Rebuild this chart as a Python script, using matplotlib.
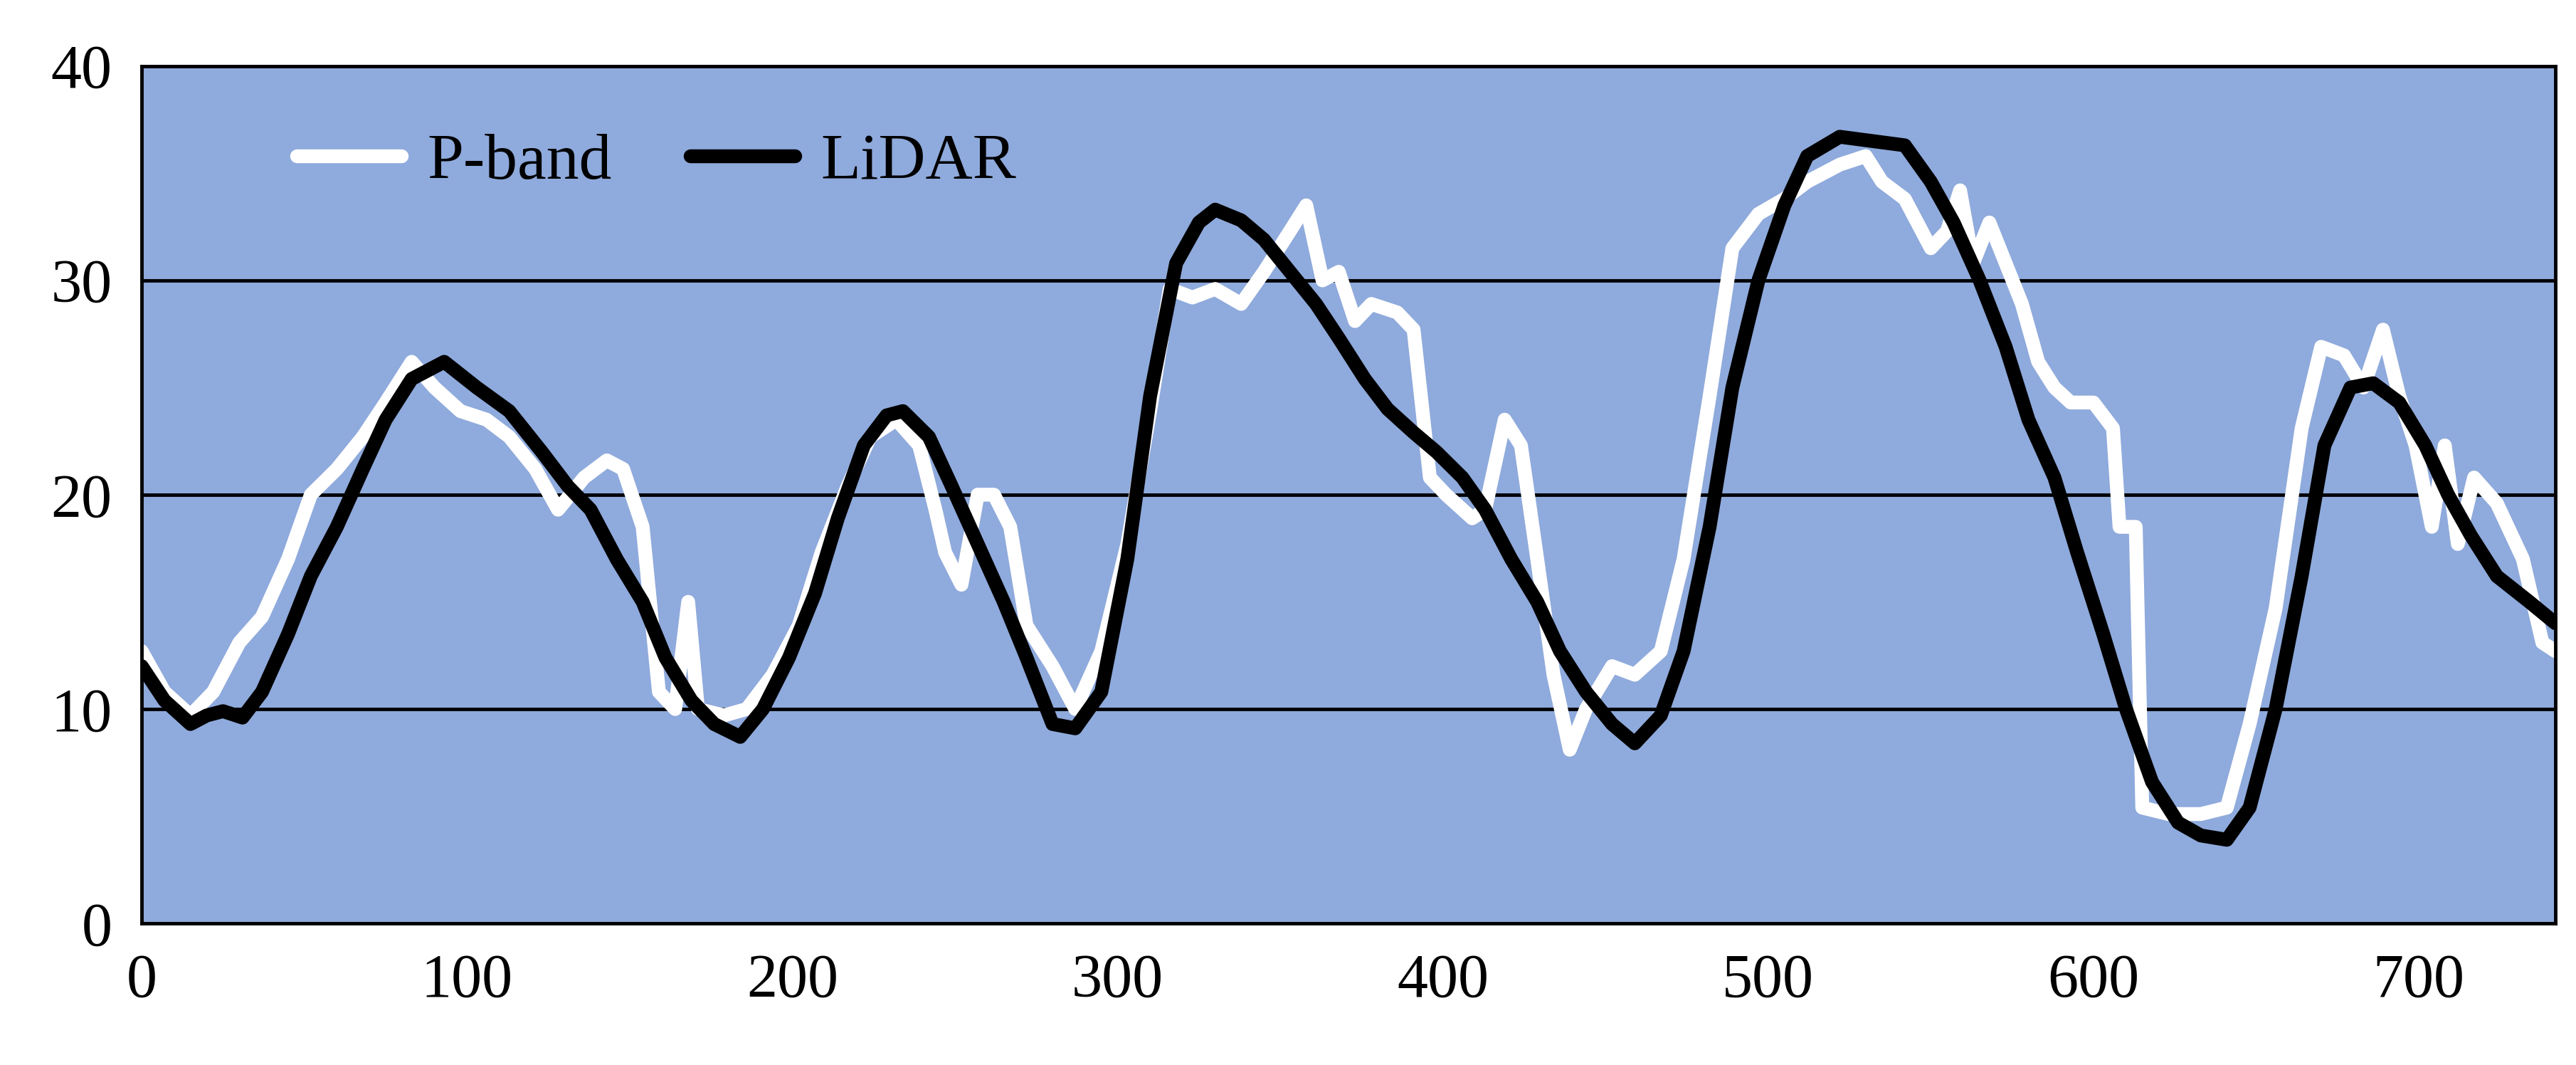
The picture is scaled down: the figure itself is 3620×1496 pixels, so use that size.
import numpy as np
import matplotlib as mpl
mpl.use('Agg')
import matplotlib.pyplot as plt

#
#--- values
#
lidar_x = [0, 7, 15, 20, 25, 31, 37, 45, 52, 60, 68, 75, 83, 93, 103, 113, 123, 131, 138, 146,
           154, 161, 169, 176, 184, 191, 199, 207, 214, 222, 229, 234, 242, 249, 257, 265, 272,
           280, 287, 295, 303, 310, 318, 325, 330, 338, 345, 353, 361, 368, 376, 383, 391, 398,
           406, 413, 421, 429, 436, 444, 452, 459, 467, 474, 482, 489, 497, 505, 512, 522, 532,
           542, 550, 557, 565, 573, 580, 588, 595, 603, 610, 618, 626, 633, 641, 648, 656, 664,
           671, 679, 686, 694, 702, 709, 716, 724, 734, 742]
lidar_y = [12, 10.4, 9.3, 9.7, 9.9, 9.6, 10.8, 13.5, 16.2, 18.5, 21.2, 23.5, 25.4, 26.2, 25, 23.9,
           22, 20.4, 19.3, 17, 15, 12.4, 10.4, 9.3, 8.7, 10, 12.4, 15.4, 18.9, 22.3, 23.7, 23.9,
           22.7, 20.4, 17.7, 15, 12.4, 9.3, 9.1, 10.8, 17, 24.6, 30.8, 32.7, 33.3, 32.8, 31.9,
           30.4, 28.9, 27.3, 25.4, 24, 22.9, 22, 20.8, 19.3, 17, 15, 12.7, 10.8, 9.3, 8.4, 9.7,
           12.7, 18.5, 25, 30, 33.5, 35.8, 36.7, 36.5, 36.3, 34.6, 32.7, 30, 26.9, 23.5, 20.8,
           17.3, 13.5, 10, 6.6, 4.7, 4.1, 3.9, 5.4, 10, 16.2, 22.3, 25, 25.2, 24.3, 22.3, 20,
           18.1, 16.2, 15, 14]

pband_x = [0, 7, 15, 22, 30, 37, 45, 52, 60, 68, 75, 83, 90, 98, 106, 113, 121, 128, 136, 143,
           148, 154, 159, 164, 168, 171, 179, 186, 194, 202, 209, 217, 224, 232, 239, 244, 247,
           252, 257, 262, 267, 272, 280, 287, 295, 303, 310, 316, 323, 330, 338, 345, 353, 358,
           363, 368, 373, 378, 386, 391, 396, 401, 409, 413, 419, 424, 429, 434, 439, 444, 452,
           459, 467, 474, 482, 489, 497, 505, 512, 522, 530, 535, 542, 550, 555, 559, 563, 568,
           573, 578, 583, 588, 593, 600, 606, 608, 613, 615, 623, 633, 641, 648, 656, 664, 670,
           677, 683, 689, 694, 699, 704, 708, 712, 717, 724, 732, 738, 742]
pband_y = [12.7, 10.8, 9.7, 10.8, 13.1, 14.3, 17, 20, 21.2, 22.7, 24.3, 26.2, 25, 23.9, 23.5,
           22.7, 21.2, 19.3, 20.8, 21.6, 21.2, 18.5, 10.8, 10, 15, 10, 9.7, 10, 11.6, 13.9, 17.3,
           20.4, 22.7, 23.5, 22.3, 19.3, 17.3, 15.8, 20, 20, 18.5, 13.9, 12, 10, 12.7, 17.7, 23.9,
           29.6, 29.2, 29.6, 28.9, 30.4, 32.3, 33.5, 30, 30.4, 28.1, 28.9, 28.5, 27.7, 20.8, 20,
           18.9, 19.3, 23.5, 22.3, 17, 11.6, 8.1, 10, 12, 11.6, 12.7, 17, 24.6, 31.5, 33.1, 33.8,
           34.6, 35.4, 35.8, 34.6, 33.8, 31.5, 32.3, 34.2, 30.8, 32.7, 30.8, 28.9, 26.2, 25, 24.3,
           24.3, 23.1, 18.5, 18.5, 5.4, 5.1, 5.1, 5.4, 9.3, 14.7, 23.1, 26.9, 26.5, 25, 27.7, 24.6,
           22.3, 18.5, 22.3, 17.7, 20.8, 19.6, 17, 13.1, 12.7]

x_ticks = [0, 100, 200, 300, 400, 500, 600, 700]
y_ticks = [0, 10, 20, 30, 40]

#
#--- plotting
#
plt.rcParams['font.family'] = ['Liberation Serif', 'DejaVu Serif']

fig = plt.figure(figsize=(36.2, 14.96), dpi=100)
ax = fig.add_axes([0.055, 0.133, 0.937, 0.805])
ax.set_facecolor('#8faadc')

for yv in y_ticks[1:-1]:
    ax.axhline(yv, color='black', lw=3.5, zorder=1)

ax.plot(pband_x, pband_y, color='white', lw=14, label='P-band', zorder=2,
        solid_joinstyle='round', solid_capstyle='round')
ax.plot(lidar_x, lidar_y, color='black', lw=14, label='LiDAR', zorder=3,
        solid_joinstyle='round', solid_capstyle='round')

ax.set_xlim(0, 742)
ax.set_ylim(0, 40)
ax.set_xticks(x_ticks)
ax.set_yticks(y_ticks)
ax.tick_params(labelsize=62, length=0, pad=30)
for sp in ax.spines.values():
    sp.set_linewidth(3.5)
    sp.set_color('black')

ax.legend(loc='upper left', ncol=2, frameon=False, fontsize=66,
          bbox_to_anchor=(0.04, 0.99), handlelength=1.6, columnspacing=1.2,
          handletextpad=0.4)

plt.savefig('out.png', dpi=100)
plt.close('all')
